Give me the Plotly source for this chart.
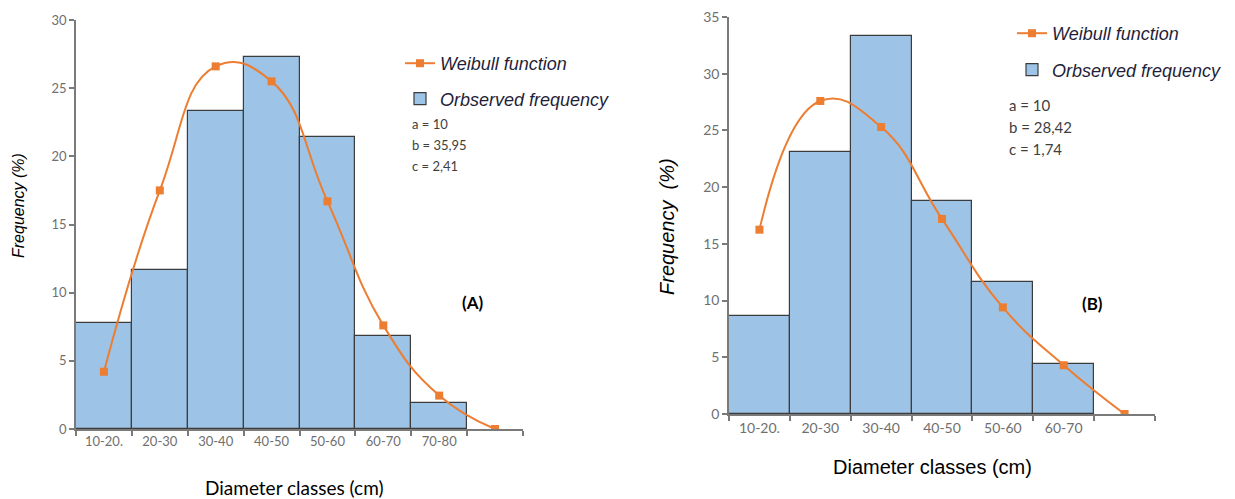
import plotly.graph_objects as go

# ---------------- data ----------------
cats_a = ["10-20.", "20-30", "30-40", "40-50", "50-60", "60-70", "70-80", ""]
obs_a = [7.8, 11.7, 23.3, 27.3, 21.4, 6.8, 1.9]
weib_a = [4.2, 17.5, 26.6, 25.5, 16.7, 7.6, 2.45, 0]
params_a = ["a = 10", "b = 35,95", "c = 2,41"]
yticks_a = [0, 5, 10, 15, 20, 25, 30]

cats_b = ["10-20.", "20-30", "30-40", "40-50", "50-60", "60-70", ""]
obs_b = [8.6, 23.1, 33.3, 18.8, 11.6, 4.4]
weib_b = [16.25, 27.6, 25.3, 17.2, 9.4, 4.3, 0]
params_b = ["a = 10", "b = 28,42", "c = 1,74"]
yticks_b = [0, 5, 10, 15, 20, 25, 30, 35]

W, H = 1235, 499
OFF = 8  # page body margin
BAR = "#9DC3E6"
BAR_LINE = "#3c3c3c"
ORANGE = "#ED7D31"
TICK = "#6f6f6f"
AXIS = "#7a7a7a"


def px_x(p):
    return (p - OFF) / W


def px_y(p):
    return 1 - (p - OFF) / H


fig = go.Figure()

# --- chart A ---
fig.add_trace(go.Bar(
    x=list(range(len(obs_a))), y=obs_a, width=1,
    marker=dict(color=BAR, line=dict(color=BAR_LINE, width=1.2)),
    name="Orbserved frequency", legend="legend", legendrank=2,
    legendgroup="a_obs", xaxis="x", yaxis="y"))
fig.add_trace(go.Scatter(
    x=list(range(len(weib_a))), y=weib_a, mode="lines+markers",
    line=dict(color=ORANGE, width=2, shape="spline", smoothing=1.3),
    marker=dict(symbol="square", size=8, color=ORANGE),
    name="Weibull function", legend="legend", legendrank=1,
    legendgroup="a_w", xaxis="x", yaxis="y"))

# --- chart B ---
fig.add_trace(go.Bar(
    x=list(range(len(obs_b))), y=obs_b, width=1,
    marker=dict(color=BAR, line=dict(color=BAR_LINE, width=1.2)),
    name="Orbserved frequency", legend="legend2", legendrank=2,
    legendgroup="b_obs", xaxis="x2", yaxis="y2"))
fig.add_trace(go.Scatter(
    x=list(range(len(weib_b))), y=weib_b, mode="lines+markers",
    line=dict(color=ORANGE, width=2, shape="spline", smoothing=1.3),
    marker=dict(symbol="square", size=8, color=ORANGE),
    name="Weibull function", legend="legend2", legendrank=1,
    legendgroup="b_w", xaxis="x2", yaxis="y2"))


def xaxis_cfg(cats, dom, anchor, size):
    n = len(cats)
    return dict(
        domain=dom, anchor=anchor, range=[-0.5, n - 0.5], automargin=False,
        tickmode="array", tickvals=list(range(n)), ticktext=cats,
        ticks="", showgrid=False, zeroline=False,
        showline=True, linecolor=AXIS, linewidth=1.5,
        tickfont=dict(family="Lato", size=size, color=TICK),
        ticklabeloverflow="allow",
        minor=dict(tickmode="array", tickvals=[i - 0.5 for i in range(n + 1)],
                   ticks="outside", ticklen=5, tickcolor=AXIS, tickwidth=1.5,
                   showgrid=False),
        fixedrange=True)


def yaxis_cfg(ticks, dom, anchor, size):
    return dict(
        domain=dom, anchor=anchor, range=[ticks[0], ticks[-1] + 0.001], automargin=False,
        tickmode="array", tickvals=ticks, ticktext=[str(t) for t in ticks],
        ticks="outside", ticklen=5, tickcolor=AXIS, tickwidth=1.5,
        showgrid=False, zeroline=False,
        showline=True, linecolor=AXIS, linewidth=1.5,
        tickfont=dict(family="Lato", size=size, color=TICK),
        ticklabeloverflow="allow",
        fixedrange=True)


legend_font = dict(family="Liberation Sans, Arial", size=18, color="#1f1f3a", style="italic")

fig.update_layout(
    width=W, height=H,
    margin=dict(l=0, r=0, t=0, b=0, autoexpand=False),
    paper_bgcolor="white", plot_bgcolor="white",
    bargap=0,
    xaxis=xaxis_cfg(cats_a, [px_x(76), px_x(523)], "y", 13),
    yaxis=yaxis_cfg(yticks_a, [px_y(429), px_y(20)], "x", 13),
    xaxis2=xaxis_cfg(cats_b, [px_x(729), px_x(1155)], "y2", 14),
    yaxis2=yaxis_cfg(yticks_b, [px_y(414), px_y(17)], "x2", 14),
    legend=dict(x=px_x(400), y=px_y(45), xanchor="left", yanchor="top",
                font=legend_font, bgcolor="rgba(0,0,0,0)",
                tracegroupgap=9, itemwidth=30),
    legend2=dict(x=px_x(1012), y=px_y(15), xanchor="left", yanchor="top",
                 font=legend_font, bgcolor="rgba(0,0,0,0)",
                 tracegroupgap=10, itemwidth=30),
)


def note(x, y, text, font, angle=0, xanchor="center"):
    return dict(x=px_x(x), y=px_y(y), xref="paper", yref="paper", text=text,
                textangle=angle, showarrow=False, xanchor=xanchor, yanchor="middle",
                font=font)


ann = []
# axis titles
ann.append(note(19, 206, "Frequency (%)",
                dict(family="Liberation Sans, Arial", size=16, color="black", style="italic"), -90))
ann.append(note(667, 226, "Frequency\u00a0 (%)",
                dict(family="Liberation Sans, Arial", size=20, color="black", style="italic"), -90))
ann.append(note(294, 487, "Diameter classes (cm)",
                dict(family="Lato", size=19, color="black")))
ann.append(note(932, 467, "Diameter classes (cm)",
                dict(family="Liberation Sans, Arial", size=20, color="black")))
# panel labels
ann.append(note(472, 302, "<b>(A)</b>", dict(family="Lato", size=17, color="black")))
ann.append(note(1092, 303, "<b>(B)</b>", dict(family="Lato", size=17, color="black")))
# parameters
for i, t in enumerate(params_a):
    ann.append(note(410, 124 + 21 * i, t, dict(family="Lato", size=13, color="#404040"),
                    xanchor="left"))
for i, t in enumerate(params_b):
    ann.append(note(1007, 105 + 22 * i, t, dict(family="Lato", size=15, color="#404040"),
                    xanchor="left"))

fig.update_layout(annotations=ann)

fig.write_html("out.html")
